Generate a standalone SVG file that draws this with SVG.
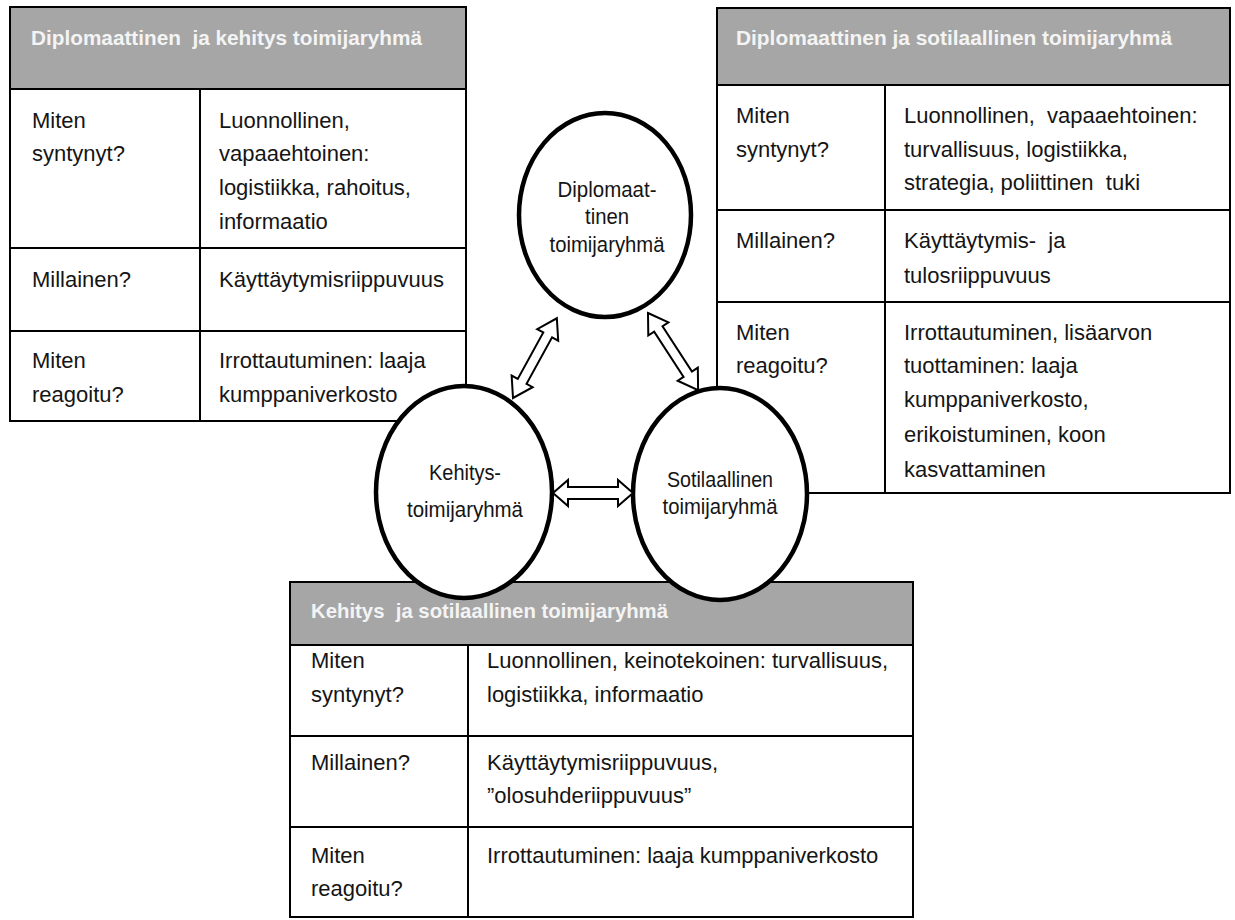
<svg xmlns="http://www.w3.org/2000/svg" width="1235" height="920" viewBox="0 0 1235 920">
<style>
.bg{fill:#fff}
.hdr{fill:#a6a6a6;stroke:none}
.grid{fill:none;stroke:#000;stroke-width:2}
.t{font-family:"Liberation Sans",Arial,sans-serif;font-size:22px;fill:#151515}
.h{font-family:"Liberation Sans",Arial,sans-serif;font-size:21px;font-weight:bold;fill:#f4f4f4}
.c{font-family:"Liberation Sans",Arial,sans-serif;font-size:22px;fill:#151515;text-anchor:middle}
.node{fill:#fff;stroke:#000;stroke-width:4.5}
.arrow{fill:#fff;stroke:#000;stroke-width:2;stroke-linejoin:miter}
</style>
<rect class="bg" x="0" y="0" width="1235" height="920"/>

<g id="table-diplomaattinen-kehitys">
  <rect class="hdr" x="10" y="7" width="456" height="82"/>
  <rect class="grid" x="10" y="7" width="456" height="414"/>
  <line class="grid" x1="10" y1="89" x2="466" y2="89"/>
  <line class="grid" x1="200" y1="89" x2="200" y2="421"/>
  <line class="grid" x1="10" y1="248" x2="466" y2="248"/>
  <line class="grid" x1="10" y1="331" x2="466" y2="331"/>
  <text class="h" x="31" y="45" textLength="391" lengthAdjust="spacingAndGlyphs" xml:space="preserve">Diplomaattinen  ja kehitys toimijaryhmä</text>
  <text class="t" x="32" y="128">Miten</text>
  <text class="t" x="32" y="161">syntynyt?</text>
  <text class="t" x="32" y="287">Millainen?</text>
  <text class="t" x="32" y="368">Miten</text>
  <text class="t" x="32" y="402">reagoitu?</text>
  <text class="t" x="219" y="128">Luonnollinen,</text>
  <text class="t" x="219" y="161">vapaaehtoinen:</text>
  <text class="t" x="219" y="195">logistiikka, rahoitus,</text>
  <text class="t" x="219" y="229">informaatio</text>
  <text class="t" x="219" y="287">Käyttäytymisriippuvuus</text>
  <text class="t" x="219" y="368">Irrottautuminen: laaja</text>
  <text class="t" x="219" y="402">kumppaniverkosto</text>
</g>

<g id="table-diplomaattinen-sotilaallinen">
  <rect class="hdr" x="717" y="8" width="513" height="77"/>
  <rect class="grid" x="717" y="8" width="513" height="485"/>
  <line class="grid" x1="717" y1="85" x2="1230" y2="85"/>
  <line class="grid" x1="885" y1="85" x2="885" y2="493"/>
  <line class="grid" x1="717" y1="210" x2="1230" y2="210"/>
  <line class="grid" x1="717" y1="302" x2="1230" y2="302"/>
  <text class="h" x="736" y="45" textLength="436" lengthAdjust="spacingAndGlyphs">Diplomaattinen ja sotilaallinen toimijaryhmä</text>
  <text class="t" x="736" y="123">Miten</text>
  <text class="t" x="736" y="157">syntynyt?</text>
  <text class="t" x="736" y="248">Millainen?</text>
  <text class="t" x="736" y="340">Miten</text>
  <text class="t" x="736" y="373">reagoitu?</text>
  <text class="t" x="904" y="123" xml:space="preserve">Luonnollinen,  vapaaehtoinen:</text>
  <text class="t" x="904" y="157">turvallisuus, logistiikka,</text>
  <text class="t" x="904" y="190" xml:space="preserve">strategia, poliittinen  tuki</text>
  <text class="t" x="904" y="248" xml:space="preserve">Käyttäytymis-  ja</text>
  <text class="t" x="904" y="283">tulosriippuvuus</text>
  <text class="t" x="904" y="340">Irrottautuminen, lisäarvon</text>
  <text class="t" x="904" y="373">tuottaminen: laaja</text>
  <text class="t" x="904" y="407">kumppaniverkosto,</text>
  <text class="t" x="904" y="442">erikoistuminen, koon</text>
  <text class="t" x="904" y="477">kasvattaminen</text>
</g>

<g id="table-kehitys-sotilaallinen">
  <rect class="hdr" x="290" y="582" width="623" height="63"/>
  <rect class="grid" x="290" y="582" width="623" height="335"/>
  <line class="grid" x1="290" y1="645" x2="913" y2="645"/>
  <line class="grid" x1="468" y1="645" x2="468" y2="917"/>
  <line class="grid" x1="290" y1="736" x2="913" y2="736"/>
  <line class="grid" x1="290" y1="827" x2="913" y2="827"/>
  <text class="h" x="311" y="618" textLength="357" lengthAdjust="spacingAndGlyphs" xml:space="preserve">Kehitys  ja sotilaallinen toimijaryhmä</text>
  <text class="t" x="311" y="668">Miten</text>
  <text class="t" x="311" y="702">syntynyt?</text>
  <text class="t" x="311" y="770">Millainen?</text>
  <text class="t" x="311" y="863">Miten</text>
  <text class="t" x="311" y="896">reagoitu?</text>
  <text class="t" x="487" y="668">Luonnollinen, keinotekoinen: turvallisuus,</text>
  <text class="t" x="487" y="702">logistiikka, informaatio</text>
  <text class="t" x="487" y="770">Käyttäytymisriippuvuus,</text>
  <text class="t" x="487" y="803">”olosuhderiippuvuus”</text>
  <text class="t" x="487" y="863">Irrottautuminen: laaja kumppaniverkosto</text>
</g>

<g id="node-diplomaattinen">
  <ellipse class="node" cx="605" cy="215" rx="86" ry="102"/>
  <text class="c" x="607" y="197" textLength="99" lengthAdjust="spacingAndGlyphs">Diplomaat-</text>
  <text class="c" x="607" y="224" textLength="44" lengthAdjust="spacingAndGlyphs">tinen</text>
  <text class="c" x="607" y="252" textLength="115" lengthAdjust="spacingAndGlyphs">toimijaryhmä</text>
</g>

<g id="node-kehitys">
  <ellipse class="node" cx="464" cy="492" rx="88" ry="106"/>
  <text class="c" x="465" y="480" textLength="72" lengthAdjust="spacingAndGlyphs">Kehitys-</text>
  <text class="c" x="465" y="517" textLength="116" lengthAdjust="spacingAndGlyphs">toimijaryhmä</text>
</g>

<g id="node-sotilaallinen">
  <ellipse class="node" cx="720" cy="494" rx="87" ry="106"/>
  <text class="c" x="720" y="487" textLength="106" lengthAdjust="spacingAndGlyphs">Sotilaallinen</text>
  <text class="c" x="720" y="514" textLength="115" lengthAdjust="spacingAndGlyphs">toimijaryhmä</text>
</g>

<g id="connectors">
  <path class="arrow" transform="translate(513,398) rotate(-61.2)" d="M0,0 L19,-12 L19,-5 L72,-5 L72,-12 L91,0 L72,12 L72,5 L19,5 L19,12 Z"/>
  <path class="arrow" transform="translate(648,313) rotate(57)" d="M0,0 L19,-12 L19,-5 L73,-5 L73,-12 L92,0 L73,12 L73,5 L19,5 L19,12 Z"/>
  <path class="arrow" transform="translate(553,493)" d="M0,0 L15,-13 L15,-6 L65,-6 L65,-13 L80,0 L65,13 L65,6 L15,6 L15,13 Z"/>
</g>
</svg>
